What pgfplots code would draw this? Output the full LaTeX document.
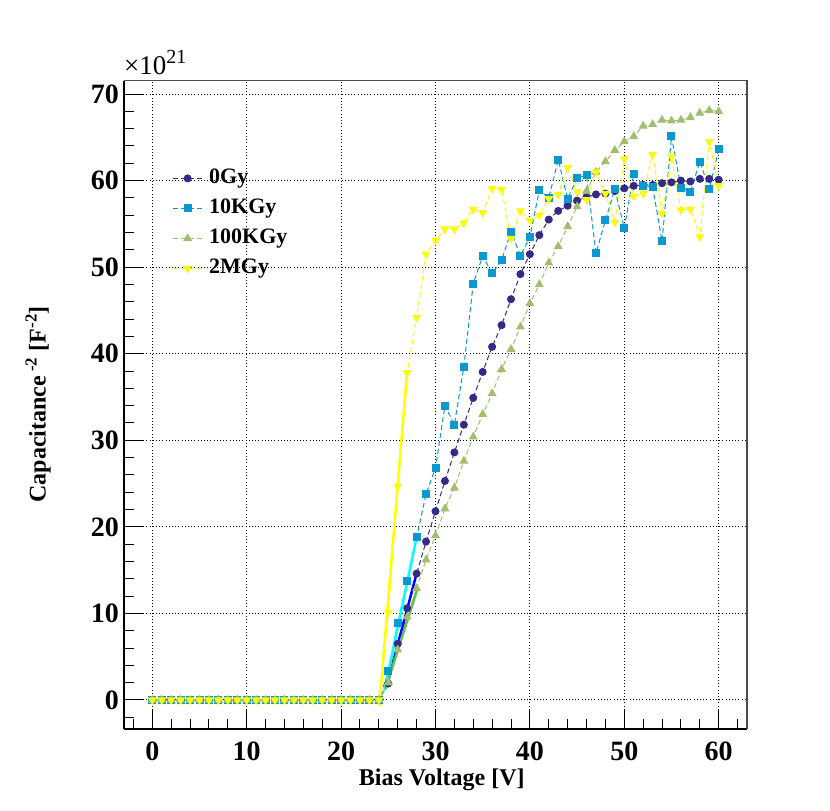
\documentclass[border=0pt]{standalone}
\usepackage{fontspec}
\setmainfont{Liberation Serif}
\usepackage{pgfplots}
\pgfplotsset{compat=1.18}
\usepackage{pgfplotstable}

\definecolor{c0}{RGB}{53,42,135}
\definecolor{c1}{RGB}{10,152,206}
\definecolor{c2}{RGB}{160,190,109}
\definecolor{c3}{RGB}{249,250,14}
\definecolor{fblue}{RGB}{0,0,255}
\definecolor{fcyan}{RGB}{0,255,255}
\definecolor{fgreen}{RGB}{95,195,75}
\definecolor{fyellow}{RGB}{255,255,0}
\newcommand{\lf}{\fontsize{22}{22}\selectfont\bfseries}

\pgfplotstableread{
V a b c d
0 0 0 0 0
1 0 0 0 0
2 0 0 0 0
3 0 0 0 0
4 0 0 0 0
5 0 0 0 0
6 0 0 0 0
7 0 0 0 0
8 0 0 0 0
9 0 0 0 0
10 0 0 0 0
11 0 0 0 0
12 0 0 0 0
13 0 0 0 0
14 0 0 0 0
15 0 0 0 0
16 0 0 0 0
17 0 0 0 0
18 0 0 0 0
19 0 0 0 0
20 0 0 0 0
21 0 0 0 0
22 0 0 0 0
23 0 0 0 0
24 0 0 0 0
25 1.9 3.3 2.0 10.1
26 6.5 8.9 5.8 24.7
27 10.6 13.8 9.6 37.8
28 14.6 18.8 12.9 44.2
29 18.3 23.8 16.2 51.5
30 21.8 26.8 19.0 53.1
31 25.3 34.0 22.1 54.4
32 28.6 31.8 24.5 54.4
33 31.8 38.5 27.6 55.1
34 34.9 48.1 30.4 56.7
35 37.9 51.3 33.0 56.3
36 40.8 49.3 35.4 59.1
37 43.3 50.8 38.2 59.0
38 46.3 54.1 40.5 53.3
39 49.2 51.3 43.1 56.5
40 51.5 53.5 45.8 55.4
41 53.7 58.9 48.0 56.0
42 55.5 58.0 50.5 57.9
43 56.5 62.4 52.4 58.4
44 57.1 57.9 54.7 61.5
45 57.7 60.3 57.0 58.7
46 58.1 60.6 58.8 57.8
47 58.4 51.6 61.0 61.0
48 58.5 55.4 62.2 58.5
49 58.8 59.0 63.5 55.2
50 59.1 54.5 64.5 62.5
51 59.4 60.8 65.1 58.2
52 59.5 59.4 66.3 58.5
53 59.5 59.3 66.5 63.0
54 59.7 53.0 67.0 56.2
55 59.8 65.1 66.9 62.8
56 60.0 59.2 67.0 56.6
57 59.9 58.7 67.3 56.7
58 60.2 62.2 67.8 53.5
59 60.2 59.0 68.1 64.5
60 60.1 63.6 68.0 59.4
}\data

\begin{document}
\begin{tikzpicture}
\path[use as bounding box] (-124pt,-82pt) rectangle (706pt,729pt);
\begin{axis}[
  at={(0,0)}, anchor=south west,
  scale only axis, width=623pt, height=648.3pt,
  xmin=-3, xmax=63, ymin=-3.35, ymax=71.54,
  axis x line*=bottom, axis y line*=left,
  axis line style={-, line width=1.5pt, black},
  xtick={0,10,...,60}, ytick={0,10,...,70},
  minor xtick={-2,0,...,62}, minor ytick={-2,0,...,70},
  tick align=inside, major tick length=20pt, minor tick length=10pt,
  tick style={black, line width=1pt},
  grid=major,
  major grid style={black, line width=1pt, dash pattern=on 1pt off 2.2pt},
  /pgf/number format/assume math mode=true,
  ticklabel style={font=\fontsize{28}{28}\selectfont\bfseries},
  xticklabel style={inner sep=0pt, anchor=north, yshift=-12.7pt},
  yticklabel style={inner sep=0pt, anchor=east, xshift=-5pt},
  xlabel={Bias Voltage [V]},
  xlabel style={at={(axis description cs:0.51,-0.079)}, anchor=center, font=\fontsize{24}{24}\selectfont\bfseries},
  ylabel={Capacitance\,\textsuperscript{-2} [F\textsuperscript{-2}]},
  ylabel style={at={(axis description cs:-0.138,0.501)}, anchor=center, font=\fontsize{24}{24}\selectfont\bfseries},
  legend image code/.code={\draw[mark repeat=2,mark phase=2,#1] plot coordinates {(0pt,0pt)(15pt,0pt)(30pt,0pt)};},
  legend style={at={(rel axis cs:0.077,0.865)}, anchor=north west, draw=none, fill=none,
    row sep=10pt, column sep=6pt, inner sep=0pt,
    nodes={inner sep=0pt, text height=15pt, text depth=5pt}},
  legend cell align=left,
  every axis plot/.append style={line width=1pt, dash pattern=on 5pt off 3pt},
]
\addplot[c0, mark=*, mark size=3.5pt, mark options={solid, fill=c0, draw=c0}] table[x=V, y=a] {\data};
\addlegendentry{\lf 0Gy}
\addplot[c1, mark=square*, mark size=3.5pt, mark options={solid, fill=c1, draw=c1}] table[x=V, y=b] {\data};
\addlegendentry{\lf 10KGy}
\addplot[c2, mark=triangle*, mark size=4.2pt, mark options={solid, fill=c2, draw=c2}] table[x=V, y=c] {\data};
\addlegendentry{\lf 100KGy}
\addplot[c3, mark=triangle*, mark size=4.2pt, mark options={solid, rotate=180, fill=c3, draw=c3}] table[x=V, y=d] {\data};
\addlegendentry{\lf 2MGy}
% linear fits
\addplot[forget plot, fblue, solid, line width=2.5pt, no marks] coordinates {(24.8,1.5) (28,14.6)};
\addplot[forget plot, fcyan, solid, line width=2.5pt, no marks] coordinates {(24.6,1.1) (28,18.8)};
\addplot[forget plot, fgreen, solid, line width=2.5pt, no marks] coordinates {(24.7,1.3) (28.1,12.9)};
\addplot[forget plot, fyellow, solid, line width=2.5pt, no marks] coordinates {(24.05,-0.7) (27.0,38.0)};
\end{axis}
\draw[black!70, line width=1.2pt] (0pt,648.3pt) -- (623pt,648.3pt) -- (623pt,0pt);
\node[anchor=base west, inner sep=0pt] at (0pt,654pt)
  {{\fontsize{27}{27}\selectfont ×10}{\fontsize{20}{20}\selectfont\raisebox{11pt}{21}}};
\end{tikzpicture}
\end{document}
